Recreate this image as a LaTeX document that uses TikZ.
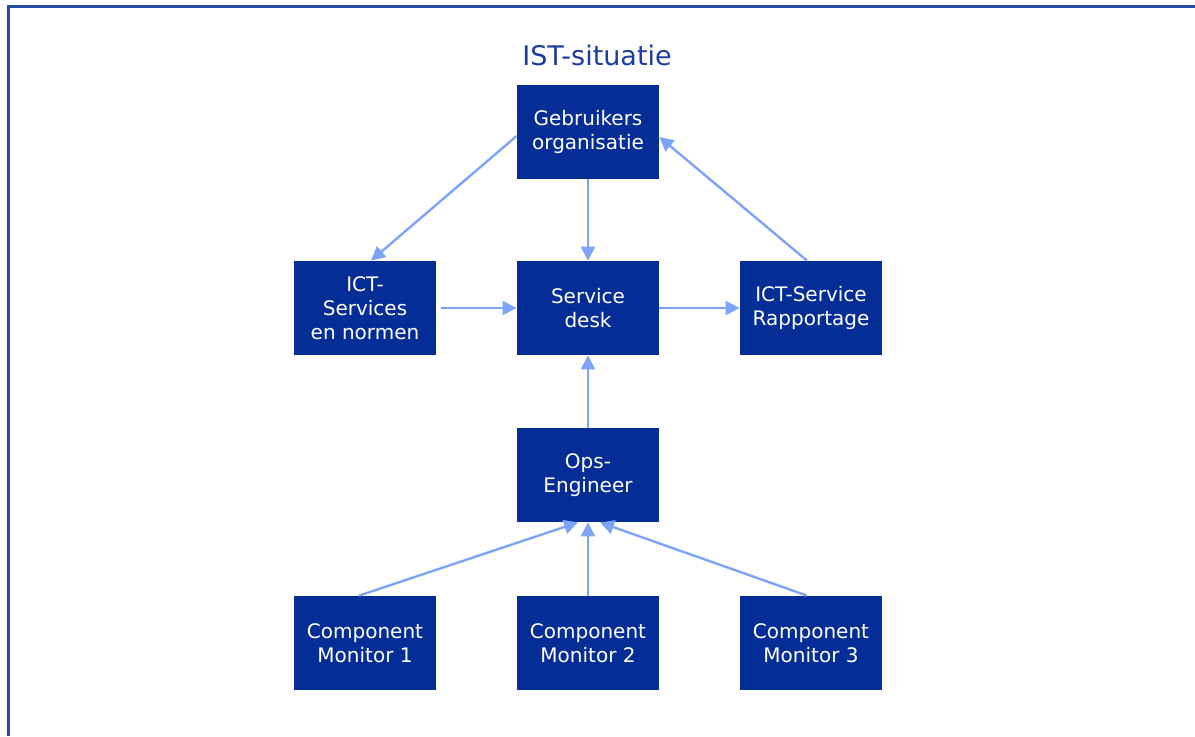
\documentclass[tikz,border=0pt]{standalone}
\usepackage{fontspec}
\setmainfont{DejaVu Sans}
\usepackage{xcolor}
\usetikzlibrary{positioning,calc,arrows.meta}

\definecolor{boxblue}{RGB}{4,46,150}
\definecolor{linkblue}{RGB}{125,165,247}
\definecolor{titleblue}{RGB}{28,60,160}
\definecolor{frameblue}{RGB}{40,75,170}

\begin{document}
\begin{tikzpicture}[x=0.5pt, y=-0.5pt,
		box/.style={fill=boxblue, text=white, minimum width=71pt, minimum height=47pt,
			inner sep=0pt, align=center, font=\fontsize{10}{12}\selectfont},
		link/.style={draw=linkblue, line width=1.2pt, -{Triangle[length=7pt,width=7pt]}}]
		\useasboundingbox (0,0) rectangle (1195,736);
		\fill[white] (0,0) rectangle (1195,736);
		\draw[frameblue, line width=1.5pt] (8,736) -- (8,6) -- (1195,6);
		\node[text=titleblue, font=\fontsize{13.5}{16}\selectfont] (title) at (597,55) {IST-situatie};
		\node[box] (gebr) at (588,132) {Gebruikers\\organisatie};
		\node[box] (ict) at (365,308) {ICT-\\Services\\en normen};
		\node[box] (desk) at (588,308) {Service\\desk};
		\node[box] (rapp) at (811,308) {ICT-Service\\Rapportage};
		\node[box] (ops) at (588,475) {Ops-\\Engineer};
		\node[box] (mon1) at (365,643) {Component\\Monitor 1};
		\node[box] (mon2) at (588,643) {Component\\Monitor 2};
		\node[box] (mon3) at (811,643) {Component\\Monitor 3};
		\draw[link] ([yshift=-2pt]gebr.west) -- ([xshift=3pt]ict.north);
		\draw[link] (gebr) -- (desk);
		\draw[link] ([xshift=-2pt]rapp.north) -- ([yshift=-2.5pt]gebr.east);
		\draw[link, shorten <=2.5pt] (ict.east) -- (desk.west);
		\draw[link] (desk) -- (rapp);
		\draw[link] (ops) -- (desk);
		\draw[link] ([xshift=-3pt]mon1.north) -- ([xshift=-5pt]ops.south);
		\draw[link] (mon2) -- (ops);
		\draw[link] ([xshift=-2pt]mon3.north) -- ([xshift=6pt]ops.south);
	\end{tikzpicture}
\end{document}
